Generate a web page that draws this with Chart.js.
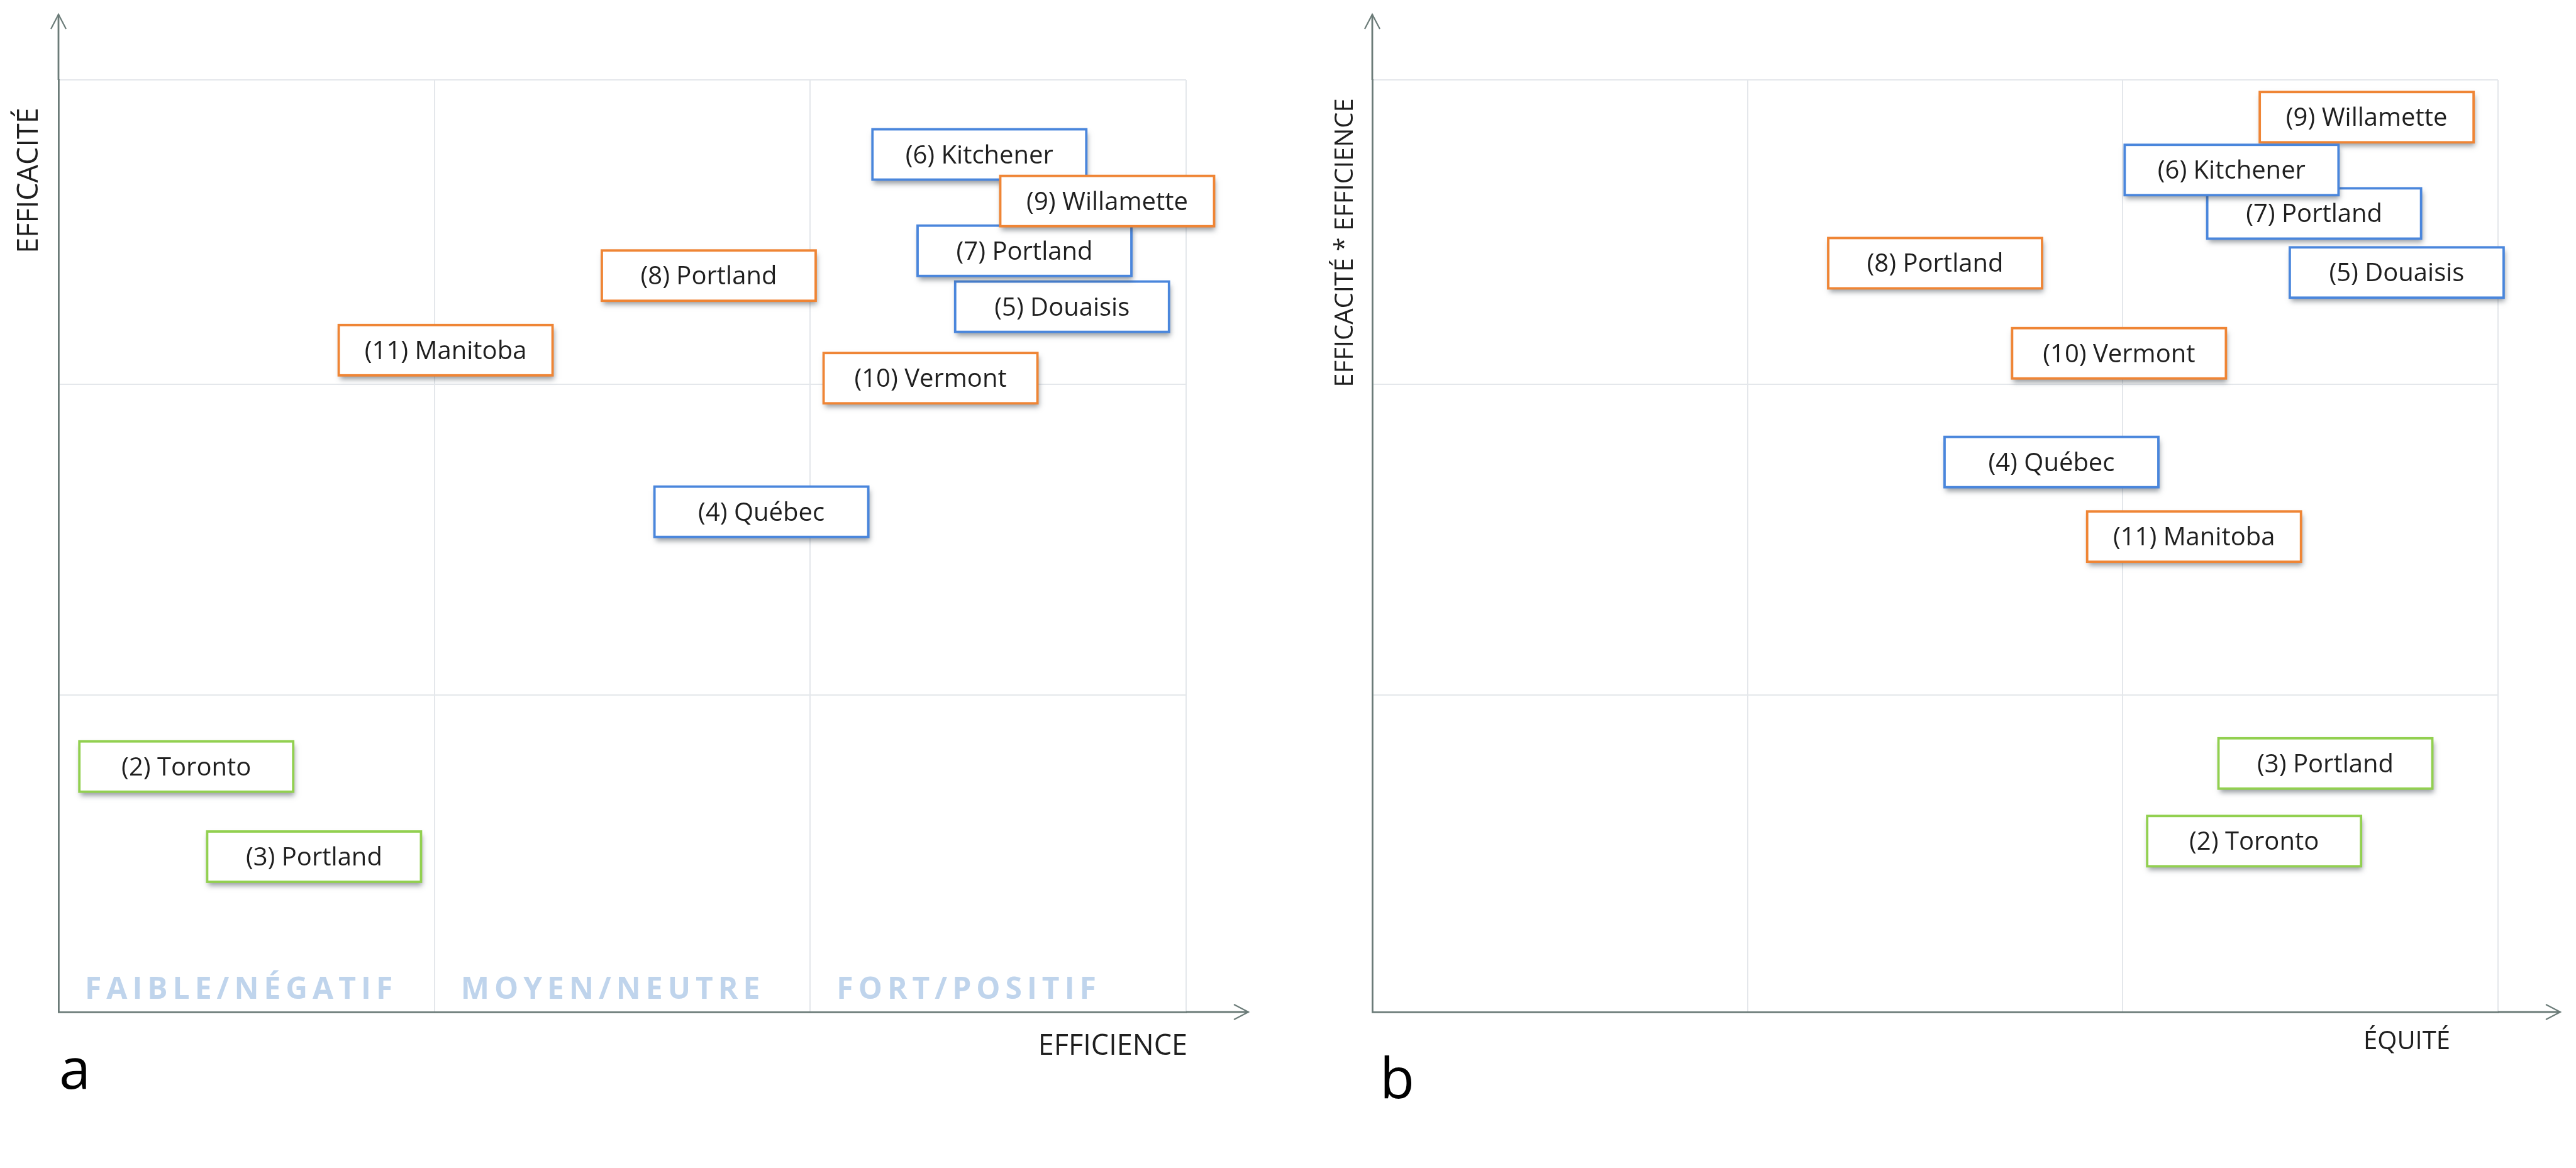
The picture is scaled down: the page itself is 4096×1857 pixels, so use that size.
<!DOCTYPE html>
<html lang="fr">
<head>
<meta charset="utf-8">
<script src="https://cdn.jsdelivr.net/npm/chart.js@4.4.0/dist/chart.umd.min.js"></script>
<style>
  body { margin: 0; background: #fff; overflow: hidden; }
  .panneau { position: absolute; top: 0; width: 2048px; height: 1857px; }
</style>
</head>
<body>
<div class="panneau" style="left:0"><canvas id="graphA"></canvas></div>
<div class="panneau" style="left:2048px"><canvas id="graphB"></canvas></div>
<script>
// cas etudies (numero + ville) et couleur du groupe
const villes = ['(2) Toronto', '(3) Portland', '(4) Québec', '(5) Douaisis', '(6) Kitchener',
                '(7) Portland', '(8) Portland', '(9) Willamette', '(10) Vermont', '(11) Manitoba'];
const groupes = ['vert', 'vert', 'bleu', 'bleu', 'bleu', 'bleu', 'orange', 'orange', 'orange', 'orange'];

// graphique a : efficience / efficacite (echelle 0-3)
const efficience = [0.34, 0.68, 1.87, 2.67, 2.45, 2.57, 1.73, 2.79, 2.32, 1.03];
const efficacite = [0.79, 0.50, 1.61, 2.27, 2.76, 2.45, 2.37, 2.61, 2.04, 2.13];

// graphique b : equite / efficacite * efficience
const equite = [2.35, 2.54, 1.81, 2.73, 2.29, 2.51, 1.50, 2.65, 1.99, 2.19];
const efficaciteEfficience = [0.55, 0.80, 1.77, 2.38, 2.71, 2.57, 2.41, 2.88, 2.12, 1.53];

const niveaux = ['FAIBLE/NÉGATIF', 'MOYEN/NEUTRE', 'FORT/POSITIF'];
// lignes de la grille (les rangees du haut sont un peu plus serrees)
const graduationsX = [0, 1, 2, 3];
const graduationsY = [0, 1.02, 2.02, 3];

const couleurs = { bleu: '#4a86dc', orange: '#ef8535', vert: '#92d050' };
const gris = '#6b7b78';

Chart.defaults.font.family = '"Open Sans", sans-serif';

// boites des villes, dessinees a la position des points
const etiquettes = {
  id: 'etiquettes',
  afterDatasetsDraw(chart, args, opts) {
    const ctx = chart.ctx;
    const meta = chart.getDatasetMeta(0);
    const ds = chart.data.datasets[0];
    const ordre = meta.data.map((p, i) => i);
    if (opts.inverse) ordre.reverse();
    const w = 340, h = 80;
    ctx.save();
    ctx.font = '40px "Open Sans"';
    ctx.textAlign = 'center';
    ctx.textBaseline = 'alphabetic';
    ordre.forEach(i => {
      const p = meta.data[i];
      ctx.shadowColor = 'rgba(50,60,70,0.5)';
      ctx.shadowBlur = 8;
      ctx.shadowOffsetX = 2;
      ctx.shadowOffsetY = 6;
      ctx.fillStyle = '#fff';
      ctx.fillRect(p.x - w / 2, p.y - h / 2, w, h);
      ctx.shadowColor = 'transparent';
      ctx.lineWidth = 3.8;
      ctx.strokeStyle = ds.pointBorderColor[i];
      ctx.strokeRect(p.x - w / 2, p.y - h / 2, w, h);
      ctx.fillStyle = '#1f1f1f';
      ctx.fillText(ds.noms[i], p.x, p.y + 14);
    });
    ctx.restore();
  }
};

// fleches des axes, titres, lettre du panneau, niveaux
const habillage = {
  id: 'habillage',
  afterDraw(chart, args, o) {
    const ctx = chart.ctx;
    const a = chart.chartArea;
    ctx.save();
    ctx.strokeStyle = gris;
    ctx.lineWidth = 2.8;
    ctx.beginPath();
    ctx.moveTo(a.right, a.bottom);
    ctx.lineTo(a.right + 99, a.bottom);
    ctx.moveTo(a.left, a.top);
    ctx.lineTo(a.left, a.top - 104);
    ctx.stroke();
    ctx.lineWidth = 2.2;
    ctx.beginPath();
    ctx.moveTo(a.right + 76, a.bottom - 12);
    ctx.lineTo(a.right + 99, a.bottom);
    ctx.lineTo(a.right + 76, a.bottom + 12);
    ctx.moveTo(a.left - 12, a.top - 81);
    ctx.lineTo(a.left, a.top - 104);
    ctx.lineTo(a.left + 12, a.top - 81);
    ctx.stroke();

    ctx.fillStyle = '#1f1f1f';
    ctx.font = o.taille + 'px "Open Sans"';
    ctx.textAlign = 'right';
    ctx.textBaseline = 'alphabetic';
    ctx.fillText(o.titreX, a.right + o.titreXdx, a.bottom + o.titreXdy);

    ctx.save();
    ctx.translate(a.left + o.titreYdx, a.top + o.titreYdy);
    ctx.rotate(-Math.PI / 2);
    ctx.textAlign = 'center';
    ctx.textBaseline = 'middle';
    ctx.fillText(o.titreY, 0, 0);
    ctx.restore();

    ctx.fillStyle = '#000';
    ctx.font = '90px "Open Sans"';
    ctx.textAlign = 'left';
    ctx.fillText(o.lettre, a.left + o.lettreDx, a.bottom + o.lettreDy);

    if (o.niveaux) {
      const x = chart.scales.x;
      ctx.fillStyle = '#bfd4ec';
      ctx.font = '700 48px "Open Sans"';
      ctx.letterSpacing = '8px';
      o.niveaux.forEach((n, i) => {
        ctx.fillText(n, x.getPixelForValue(i) + 42, a.bottom - 21);
      });
    }
    ctx.restore();
  }
};

function axe(graduations) {
  return {
    type: 'linear',
    min: 0,
    max: 3,
    afterBuildTicks: s => { s.ticks = graduations.map(v => ({ value: v })); },
    ticks: { display: false },
    grid: { color: '#e4e7eb', lineWidth: 2, drawTicks: false },
    border: { color: gris, width: 2.8 }
  };
}

function graphique(id, xs, ys, padding, deco, inverse) {
  new Chart(document.getElementById(id), {
    type: 'scatter',
    data: {
      datasets: [{
        data: xs.map((v, i) => ({ x: v, y: ys[i] })),
        noms: villes,
        pointRadius: 0,
        pointBorderColor: groupes.map(g => couleurs[g])
      }]
    },
    options: {
      responsive: true,
      maintainAspectRatio: false,
      animation: false,
      layout: { padding: padding },
      plugins: {
        legend: { display: false },
        tooltip: { enabled: false },
        etiquettes: { inverse: inverse },
        habillage: deco
      },
      scales: { x: axe(graduationsX), y: axe(graduationsY) }
    },
    plugins: [etiquettes, habillage]
  });
}

graphique('graphA', efficience, efficacite,
  { left: 93, right: 162, top: 127, bottom: 248 },
  { titreX: 'EFFICIENCE', titreY: 'EFFICACITÉ', taille: 45,
    titreXdx: 2, titreXdy: 68, titreYdx: -46, titreYdy: 160,
    lettre: 'a', lettreDx: 1, lettreDy: 122, niveaux: niveaux },
  false);

graphique('graphB', equite, efficaciteEfficience,
  { left: 134, right: 124, top: 127, bottom: 248 },
  { titreX: 'ÉQUITÉ', titreY: 'EFFICACITÉ * EFFICIENCE', taille: 40,
    titreXdx: -76, titreXdy: 59, titreYdx: -42, titreYdy: 259,
    lettre: 'b', lettreDx: 12, lettreDy: 137 },
  true);
</script>
</body>
</html>
